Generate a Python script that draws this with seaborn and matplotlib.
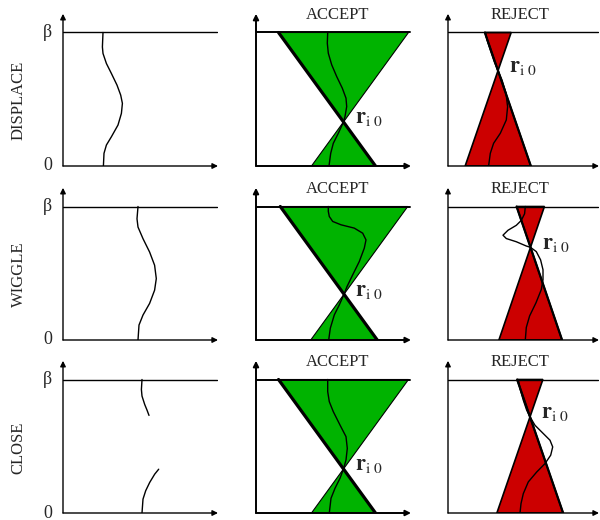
import matplotlib
matplotlib.use("Agg")
import matplotlib.pyplot as plt
import seaborn as sns

sns.set_theme(style="white")
plt.rcParams["font.family"] = ["Liberation Serif", "DejaVu Serif"]
plt.rcParams["mathtext.fontset"] = "stix"

row_labels = ["DISPLACE", "WIGGLE", "CLOSE"]
col_titles = ["", "ACCEPT", "REJECT"]

# Trajectory paths: y runs from 0 (bottom) to beta = 1 (top)
displace_y = [1.0, 0.892, 0.843, 0.768, 0.693, 0.606, 0.531, 0.469, 0.394, 0.307, 0.219, 0.157, 0.095, 0.0]
displace_x = [40.0, 39.4, 40.0, 43.4, 48.4, 54.0, 57.7, 59.4, 58.4, 55.0, 48.4, 43.4, 41.0, 40.4]

wiggle_y = [1.0, 0.908, 0.846, 0.759, 0.659, 0.560, 0.460, 0.373, 0.274, 0.187, 0.112, 0.0]
wiggle_x = [75.0, 74.0, 75.0, 80.0, 86.6, 91.6, 93.3, 91.6, 86.6, 80.0, 76.0, 75.0]

close_top_y = [1.0, 0.925, 0.876, 0.813, 0.771, 0.731]
close_top_x = [79.0, 78.4, 79.0, 81.7, 84.0, 86.0]
close_bot_y = [0.0, 0.104, 0.167, 0.229, 0.291, 0.328]
close_bot_x = [79.0, 80.0, 82.7, 86.7, 91.7, 95.7]

accept_displace_y = [1.0, 0.920, 0.845, 0.758, 0.670, 0.583, 0.508, 0.445, 0.370, 0.330, 0.245, 0.170, 0.095, 0.0]
accept_displace_x = [71.7, 71.3, 72.3, 75.7, 80.7, 86.3, 90.0, 90.7, 89.0, 87.5, 82.3, 77.3, 74.7, 73.0]

accept_wiggle_y = [1.0, 0.963, 0.925, 0.888, 0.863, 0.838, 0.800, 0.750, 0.688, 0.588, 0.488, 0.400, 0.343, 0.263, 0.188, 0.088, 0.0]
accept_wiggle_x = [72.3, 72.3, 73.3, 76.7, 85.0, 98.3, 106.7, 110.0, 108.3, 103.3, 96.7, 91.0, 88.0, 83.3, 78.3, 74.3, 72.7]

accept_close_y = [1.0, 0.909, 0.834, 0.759, 0.659, 0.572, 0.484, 0.397, 0.330, 0.260, 0.185, 0.110, 0.0]
accept_close_x = [71.7, 71.7, 73.3, 77.3, 84.0, 90.0, 91.3, 90.0, 87.5, 84.0, 79.0, 75.0, 73.3]

reject_displace_y = [1.0, 0.944, 0.869, 0.781, 0.714, 0.644, 0.545, 0.444, 0.345, 0.245, 0.170, 0.095, 0.0]
reject_displace_x = [37.3, 39.0, 42.3, 46.3, 50.0, 54.0, 58.0, 59.6, 58.3, 52.3, 45.6, 42.3, 40.6]

reject_wiggle_y = [1.0, 0.946, 0.896, 0.859, 0.822, 0.785, 0.760, 0.736, 0.704, 0.694, 0.662, 0.600, 0.526, 0.452, 0.378, 0.279, 0.180, 0.094, 0.0]
reject_wiggle_x = [77.3, 76.6, 73.3, 68.3, 60.0, 55.0, 58.3, 68.3, 78.3, 82.5, 88.3, 92.6, 95.0, 95.0, 93.3, 88.0, 81.6, 78.3, 77.3]

reject_close_y = [1.0, 0.932, 0.845, 0.770, 0.720, 0.657, 0.595, 0.545, 0.495, 0.433, 0.370, 0.307, 0.233, 0.145, 0.070, 0.0]
reject_close_x = [70.3, 72.0, 75.3, 78.7, 82.0, 87.0, 95.3, 102.0, 104.7, 102.7, 97.0, 88.7, 80.3, 75.3, 73.0, 72.0]

# Double cones around the pivot r_i0: apex position and horizontal spread per unit of y
accept_apex_x = [87.5, 88.0, 87.5]
accept_apex_y = [0.330, 0.343, 0.330]
accept_spread = [97.0, 97.0, 97.0]
reject_apex_x = [50.0, 82.5, 82.0]
reject_apex_y = [0.714, 0.694, 0.720]
reject_spread = [46.0, 45.5, 46.0]

paths = [
    [[(displace_x, displace_y)], [(accept_displace_x, accept_displace_y)], [(reject_displace_x, reject_displace_y)]],
    [[(wiggle_x, wiggle_y)], [(accept_wiggle_x, accept_wiggle_y)], [(reject_wiggle_x, reject_wiggle_y)]],
    [[(close_top_x, close_top_y), (close_bot_x, close_bot_y)],
     [(accept_close_x, accept_close_y)], [(reject_close_x, reject_close_y)]],
]

GREEN = "#00b300"
RED = "#cc0000"

FIG_W, FIG_H = 600, 520
col_left = [63, 256, 448]
col_width = [155, 155, 151]
row_zero = [166, 340, 513]
unit_h = 133.5
y_top = 1.14

fig = plt.figure(figsize=(6, 5.2), dpi=100)


def draw_cone(ax, apx, apy, spread, color, thick_lw, edge_lw):
    top_half = spread * (1 - apy)
    bot_half = spread * apy
    ax.fill([apx - top_half, apx + top_half, apx], [1, 1, apy],
            color=color, ec="black", lw=edge_lw, zorder=1)
    ax.fill([apx - bot_half, apx + bot_half, apx], [0, 0, apy],
            color=color, ec="black", lw=edge_lw, zorder=1)
    ax.plot([apx - top_half, apx + bot_half], [1, 0], color="black",
            lw=thick_lw, solid_capstyle="round", zorder=4)


for r in range(3):
    for c in range(3):
        W = col_width[c]
        left = col_left[c] / FIG_W
        bottom = (FIG_H - row_zero[r]) / FIG_H
        ax = fig.add_axes([left, bottom, W / FIG_W, y_top * unit_h / FIG_H])

        axis_lw = 1.4 if c == 1 else 1.0
        if c == 1:
            draw_cone(ax, accept_apex_x[r], accept_apex_y[r], accept_spread[r], GREEN, 2.3, 0.8)
            apx, apy = accept_apex_x[r], accept_apex_y[r]
        elif c == 2:
            draw_cone(ax, reject_apex_x[r], reject_apex_y[r], reject_spread[r], RED, 1.6, 1.2)
            apx, apy = reject_apex_x[r], reject_apex_y[r]

        # beta level
        ax.plot([0, W - 1], [1, 1], color="black", lw=axis_lw, zorder=2)
        # axes with arrow heads
        arrow = dict(arrowstyle="-|>", lw=axis_lw, color="black",
                     mutation_scale=8, shrinkA=0, shrinkB=0)
        ax.annotate("", xy=(0, y_top), xytext=(0, 0), arrowprops=arrow,
                    annotation_clip=False, zorder=3)
        ax.annotate("", xy=(W, 0), xytext=(0, 0), arrowprops=arrow,
                    annotation_clip=False, zorder=3)

        for px, py in paths[r][c]:
            sns.lineplot(x=px, y=py, sort=False, estimator=None, color="black",
                         lw=1.0, ax=ax, zorder=5, solid_joinstyle="round")
        ax.set_xlim(0, W)
        ax.set_ylim(0, y_top)
        ax.set_axis_off()

        if c == 0:
            ax.text(-11, 1, "β", ha="right", va="center", fontsize=13)
            ax.text(-11, 0, "0", ha="right", va="center", fontsize=13)
            ax.text(-44.5, 0.49, row_labels[r], rotation=90, ha="center",
                    va="center", fontsize=12)
        else:
            title_x = 82 if c == 1 else 71.5
            ax.text(title_x, 1.10, col_titles[c], ha="center", va="baseline", fontsize=12)
            ax.text(apx + 11, apy - 0.01, r"$\mathbf{r}_{\mathrm{i}\ \mathrm{0}}$",
                    ha="left", va="baseline", fontsize=16)

fig.savefig("out.png", dpi=100)
